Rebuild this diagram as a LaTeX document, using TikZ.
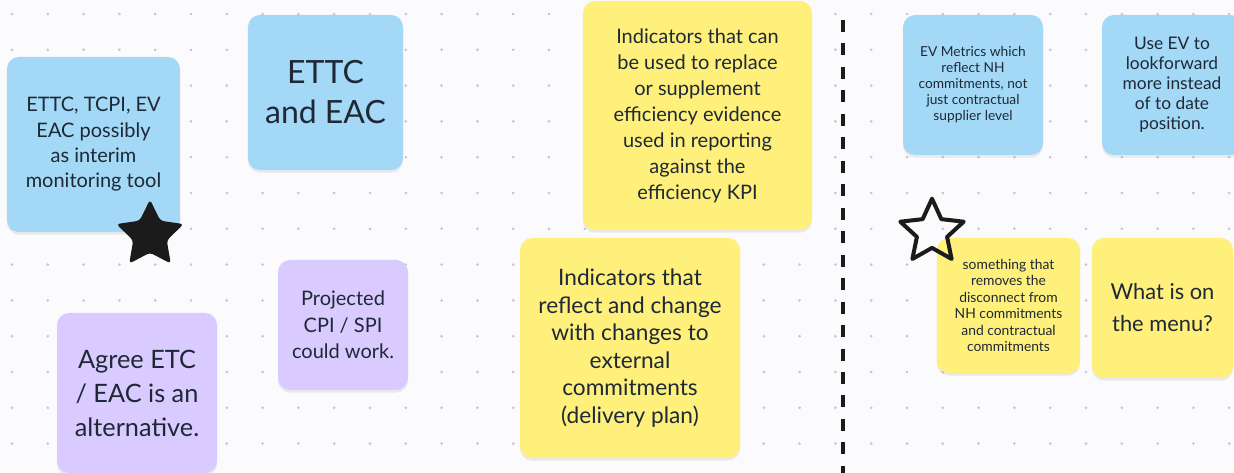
\documentclass[tikz,border=0pt]{standalone}
\usepackage{fontspec}
\setmainfont{Lato}
\usetikzlibrary{shapes.geometric, shadows, positioning}
\usepackage{xcolor}
\definecolor{boardbg}{HTML}{FBFBFD}
\definecolor{dotgrey}{HTML}{C6C7CE}
\definecolor{noteblue}{HTML}{A3D9F7}
\definecolor{noteyellow}{HTML}{FFF07C}
\definecolor{notepurple}{HTML}{D9CBFF}
\definecolor{inkdark}{HTML}{1E2935}
\definecolor{starblack}{HTML}{1B1B1B}
\tikzset{
  sticky/.style={rectangle, rounded corners=9pt, align=center, text=inkdark, inner sep=2pt,
                 drop shadow={shadow xshift=0pt, shadow yshift=-2pt,
                              fill=black, opacity=0.07}},
  bluenote/.style={sticky, fill=noteblue},
  yellownote/.style={sticky, fill=noteyellow},
  purplenote/.style={sticky, fill=notepurple},
  starfill/.style={star, star points=5, star point ratio=2.0, fill=starblack,
                   inner sep=0pt, minimum size=53pt, rounded corners=2.5pt},
  starline/.style={star, star points=5, star point ratio=2.1, draw=starblack,
                   line width=3pt, line join=round, inner sep=0pt, minimum size=50pt},
  divider/.style={draw=starblack, line width=3pt, dash pattern=on 9pt off 8.6pt},
  gdot/.style={fill=dotgrey},
}

\begin{document}
\begin{tikzpicture}[x=0.75pt, y=-0.75pt]
  \useasboundingbox (0,0) rectangle (1234,473);
  \clip (0,0) rectangle (1234,473);
  \fill[boardbg] (0,0) rectangle (1234,473);

  % --- dot grid ---
  \foreach \i in {0,...,34}{
    \foreach \j in {0,...,12}{
      \fill[gdot] ({12+35.8*\i},{14+35.8*\j}) circle (1.1pt);
    }
  }

  % --- divider ---
  \coordinate (divtop) at (843,20);
  \coordinate (divbot) at (843,480);
  \draw[divider] (divtop) -- (divbot);

  % --- left side notes ---
  \node[bluenote, minimum width=129.8pt, minimum height=131.3pt,
        font={\fontsize{15}{19}\selectfont}] (interim) at (93.5,144.5)
        {ETTC, TCPI, EV\\EAC possibly\\as interim\\monitoring tool};
  \node[bluenote, minimum size=116.3pt,
        font={\fontsize{24}{30}\selectfont}] (ettc) at (325.5,92.5)
        {ETTC\\and EAC};
  \node[yellownote, minimum size=171.8pt,
        font={\fontsize{15}{19.5}\selectfont}] (replace) at (697.5,115.5)
        {Indicators that can\\be used to replace\\or supplement\\efficiency evidence\\used in reporting\\against the\\efficiency KPI};
  \node[purplenote, minimum size=97.5pt,
        font={\fontsize{15}{20}\selectfont}] (cpispi) at (343,325)
        {Projected\\CPI / SPI\\could work.};
  \node[purplenote, minimum size=120pt,
        font={\fontsize{19}{25.5}\selectfont}] (agree) at (137,393)
        {Agree ETC\\/ EAC is an\\alternative.};
  \node[yellownote, minimum size=165pt,
        font={\fontsize{17}{20.6}\selectfont}] (external) at (630,348)
        {Indicators that\\reflect and change\\with changes to\\external\\commitments\\(delivery plan)};

  % --- right side notes ---
  \node[bluenote, minimum size=105pt,
        font={\fontsize{10.3}{12}\selectfont}] (metrics) at (973,85)
        {EV Metrics which\\reflect NH\\commitments, not\\just contractual\\supplier level};
  \node[bluenote, minimum size=105pt,
        font={\fontsize{13}{15}\selectfont}] (forward) at (1172,85)
        {Use EV to\\lookforward\\more instead\\of to date\\position.};
  \node[yellownote, minimum width=107.3pt, minimum height=101.3pt,
        font={\fontsize{10.4}{12.4}\selectfont}] (disconnect) at (1008.5,305.5)
        {something that\\removes the\\disconnect from\\NH commitments\\and contractual\\commitments};
  \node[yellownote, minimum width=105.8pt, minimum height=105pt,
        font={\fontsize{16.4}{24}\selectfont}] (menu) at (1162.5,308)
        {What is on\\the menu?};

  % --- stars ---
  \node[starfill] (votefull) at (150,235) {};
  \node[starline] (voteopen) at (932,232) {};

\end{tikzpicture}
\end{document}
